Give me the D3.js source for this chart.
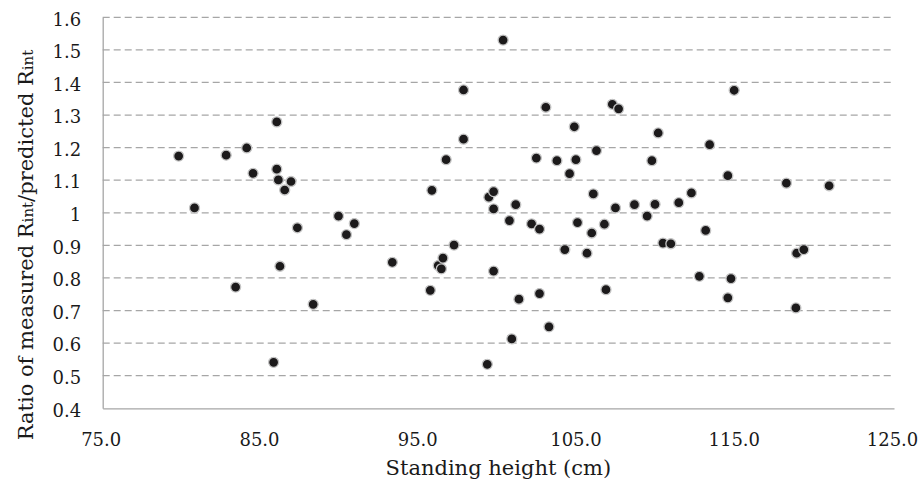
<!DOCTYPE html>
<html>
<head>
<meta charset="utf-8">
<script src="https://cdn.jsdelivr.net/npm/d3@7"></script>
<style>
  html, body { margin: 0; padding: 0; background: #fff; }
  svg { display: block; }
  text { font-family: "DejaVu Serif", "Liberation Serif", serif; fill: #1a1a1a; }
</style>
</head>
<body>
<svg id="chart" width="921" height="488"></svg>
<script>
// Data
const heights = [79.8, 80.8, 82.8, 83.4, 84.1, 84.5, 85.8, 86.0, 86.0, 86.1, 86.2, 86.5, 86.9, 87.3, 88.3,
  89.9, 90.4, 90.9, 93.3, 95.7, 95.8, 96.2, 96.4, 96.5, 96.7, 97.2, 97.8, 97.8, 99.3, 99.4,
  99.7, 99.7, 99.7, 100.3, 100.7, 100.85, 101.1, 101.3, 102.1, 102.4, 102.6, 102.6, 103.0, 103.2, 103.7,
  104.2, 104.5, 104.8, 104.9, 105.0, 105.6, 105.9, 106.0, 106.2, 106.7, 106.8, 107.2, 107.4, 107.6, 108.6,
  109.4, 109.7, 109.9, 110.1, 110.4, 110.9, 111.4, 112.2, 112.7, 113.1, 113.35, 114.5, 114.5, 114.7, 114.9,
  118.2, 118.8, 118.85, 119.3, 120.9];
const ratios = [1.174, 1.015, 1.177, 0.772, 1.199, 1.121, 0.541, 1.279, 1.134, 1.101, 0.836, 1.070, 1.096, 0.954, 0.719,
  0.990, 0.933, 0.967, 0.848, 0.762, 1.069, 0.838, 0.828, 0.861, 1.163, 0.901, 1.377, 1.226, 0.535, 1.048,
  1.065, 1.012, 0.821, 1.530, 0.976, 0.613, 1.025, 0.735, 0.966, 1.168, 0.752, 0.950, 1.324, 0.650, 1.160,
  0.887, 1.120, 1.264, 1.163, 0.970, 0.876, 0.938, 1.058, 1.191, 0.965, 0.764, 1.333, 1.015, 1.319, 1.025,
  0.990, 1.160, 1.026, 1.245, 0.907, 0.905, 1.031, 1.061, 0.805, 0.946, 1.209, 1.114, 0.739, 0.798, 1.376,
  1.091, 0.708, 0.876, 0.887, 1.083];
const xTicks = [75, 85, 95, 105, 115, 125];
const yTicks = [0.4, 0.5, 0.6, 0.7, 0.8, 0.9, 1.0, 1.1, 1.2, 1.3, 1.4, 1.5, 1.6];
const xTitle = "Standing height (cm)";

const svg = d3.select("#chart");
const mLeft = 102.7, mRight = 894, mTop = 17.3, mBottom = 408.3;

const x = d3.scaleLinear().domain([75, 125]).range([mLeft, mRight]);
const y = d3.scaleLinear().domain([0.4, 1.6]).range([mBottom, mTop]);

// gridlines (dashed)
svg.append("g").selectAll("line")
  .data(yTicks.filter(d => d > 0.4))
  .join("line")
  .attr("x1", mLeft).attr("x2", mRight)
  .attr("y1", d => y(d)).attr("y2", d => y(d))
  .attr("stroke", "#a6a6a6").attr("stroke-width", 1.3)
  .attr("stroke-dasharray", "7,4");

// y axis
const yAxis = d3.axisLeft(y).tickValues(yTicks).tickSize(0).tickPadding(21.5)
  .tickFormat(d => d === 1 ? "1" : d3.format(".1f")(d));
const gy = svg.append("g").attr("transform", `translate(${mLeft},0)`).call(yAxis);
gy.select(".domain").attr("stroke", "#a6a6a6").attr("stroke-width", 1.3);
gy.selectAll("text").attr("font-size", 18).attr("font-family", "DejaVu Serif")
  .attr("fill", "#1a1a1a").attr("y", 2);

// x axis
const xAxis = d3.axisBottom(x).tickValues(xTicks).tickSize(0)
  .tickFormat(d3.format(".1f"));
const gx = svg.append("g").attr("transform", `translate(0,${mBottom})`).call(xAxis);
gx.select(".domain").attr("stroke", "#a6a6a6").attr("stroke-width", 1.3);
gx.selectAll("text").attr("font-size", 18).attr("font-family", "DejaVu Serif")
  .attr("fill", "#1a1a1a").attr("dy", 0).attr("y", 38).attr("x", -2);

// points
svg.append("g").selectAll("circle")
  .data(heights.map((h, i) => [h, ratios[i]]))
  .join("circle")
  .attr("cx", d => x(d[0])).attr("cy", d => y(d[1]))
  .attr("r", 5)
  .attr("fill", "#1c1a1b")
  .attr("stroke", "#c4c4c4").attr("stroke-width", 1.3);

// axis titles
svg.append("text")
  .attr("x", (mLeft + mRight) / 2).attr("y", 475)
  .attr("text-anchor", "middle").attr("font-size", 21)
  .text(xTitle);

const yt = svg.append("text")
  .attr("transform", `translate(33,245) rotate(-90)`)
  .attr("text-anchor", "middle").attr("font-size", 21);
yt.append("tspan").text("Ratio of measured R");
yt.append("tspan").attr("font-size", 15).text("int");
yt.append("tspan").text("/predicted R");
yt.append("tspan").attr("font-size", 15).text("int");
</script>
</body>
</html>
